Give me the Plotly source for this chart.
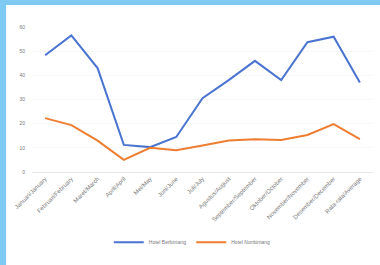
import plotly.graph_objects as go

categories = ["Januari/January", "Februari/February", "Maret/March", "April/April",
              "Mei/May", "Juni/June", "Juli/July", "Agustus/August",
              "September/September", "Oktober/October", "November/November",
              "Desember/December", "Rata-rata/Average"]
berbintang = [48.3, 56.5, 43.0, 11.2, 10.3, 14.5, 30.5, 38.0, 46.0, 38.0, 53.7, 56.0, 37.0]
nonbintang = [22.3, 19.4, 13.0, 5.0, 10.0, 9.0, 11.0, 13.0, 13.6, 13.2, 15.3, 19.8, 13.6]
y_ticks = [0, 10, 20, 30, 40, 50, 60]

fig = go.Figure()
fig.add_trace(go.Scatter(x=categories, y=berbintang, mode="lines", name="Hotel Berbintang",
                         line=dict(color="#4a74d0", width=2)))
fig.add_trace(go.Scatter(x=categories, y=nonbintang, mode="lines", name="Hotel Nonbintang",
                         line=dict(color="#ED7D31", width=2)))

fig.update_layout(
    width=380, height=265,
    margin=dict(l=32, r=7, t=27, b=93, autoexpand=False),
    paper_bgcolor="white", plot_bgcolor="white",
    font=dict(family="Liberation Sans, Arial", size=5, color="#7a7a7a"),
    showlegend=True,
    legend=dict(orientation="h", x=0.47, xanchor="center", y=-0.385, yanchor="top",
                font=dict(size=5, color="#7a7a7a"), itemwidth=30),
    xaxis=dict(type="category", tickangle=-45, showgrid=False, showline=True,
               linecolor="#e6e6e6", linewidth=1, ticks="", tickfont=dict(size=6),
               range=[-0.5, 12.5], automargin=False),
    yaxis=dict(range=[0, 60], tickvals=y_ticks, showgrid=True, gridcolor="#f7f7f7",
               zeroline=False, ticks="", tickfont=dict(size=5), automargin=False,
               ticklabelstandoff=6),
    shapes=[
        dict(type="rect", xref="paper", yref="paper", x0=-0.1, x1=1.1, y0=1.152, y1=1.2,
             fillcolor="#7fcaf2", line=dict(width=0), layer="above"),
        dict(type="rect", xref="paper", yref="paper", x0=-0.1, x1=-0.076, y0=-0.7, y1=1.2,
             fillcolor="#7fcaf2", line=dict(width=0), layer="above"),
    ],
)

fig.write_html("out.html", config={"displayModeBar": False},
               post_script="document.body.style.margin='0';")
